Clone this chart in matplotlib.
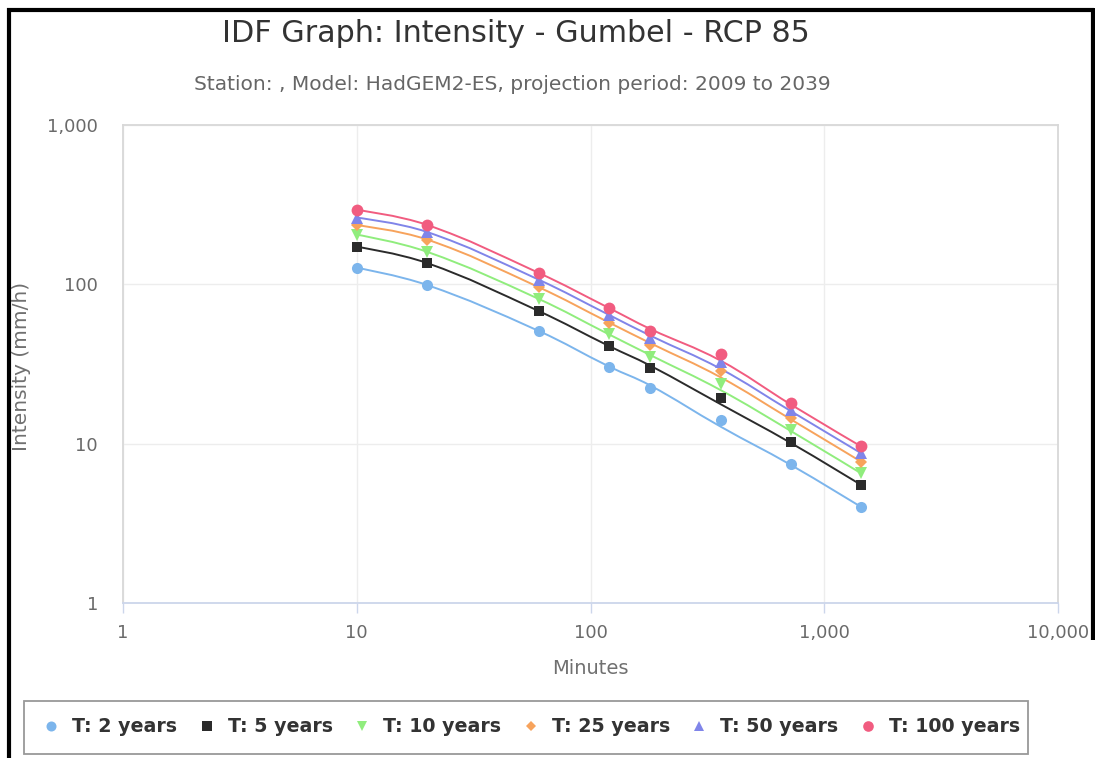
import numpy as np
import matplotlib
matplotlib.use("Agg")
import matplotlib.pyplot as plt
from matplotlib.path import Path
from matplotlib.patches import PathPatch, Rectangle
from matplotlib.lines import Line2D
from matplotlib.ticker import FixedLocator, FuncFormatter, NullLocator

# ---------------- data ----------------
durations = [10, 20, 60, 120, 180, 360, 720, 1440]          # minutes
# observed points (markers)
t2_years = [127, 99, 51, 30.5, 22.5, 14.1, 7.5, 4.0]
t5_years = [172, 136, 68, 41, 30, 19.4, 10.3, 5.5]
t10_years = [205, 160, 81, 48.5, 35, 23.8, 12.2, 6.5]
t25_years = [235, 191, 96, 57.6, 41.6, 28.7, 14.5, 7.7]
t50_years = [262, 213, 107, 64.3, 46.3, 32.4, 16.3, 8.7]
t100_years = [293, 236, 118, 71, 51, 36.5, 18, 9.6]
# fitted curves (lines), read at the same durations
t2_curve = [127, 99, 51, 30.5, 23.2, 12.8, 7.35, 4.0]
t5_curve = [172, 136, 68, 41, 30.9, 17.7, 10.1, 5.5]
t10_curve = [205, 160, 81, 48.5, 36, 21.7, 12.0, 6.5]
t25_curve = [235, 191, 96, 57.6, 42.8, 26.1, 14.2, 7.7]
t50_curve = [262, 213, 107, 64.3, 47.7, 29.5, 16.0, 8.7]
t100_curve = [293, 236, 118, 71, 52.5, 33.2, 17.6, 9.6]
series_names = ["T: 2 years", "T: 5 years", "T: 10 years",
                "T: 25 years", "T: 50 years", "T: 100 years"]
x_ticks = [1, 10, 100, 1000, 10000]
y_ticks = [1, 10, 100, 1000]

series_values = [t2_years, t5_years, t10_years, t25_years, t50_years, t100_years]
curve_values = [t2_curve, t5_curve, t10_curve, t25_curve, t50_curve, t100_curve]
colors = ["#7cb5ec", "#2b2b2b", "#90ed7d", "#f7a35c", "#8085e9", "#f15c80"]
markers = ["o", "s", "v", "D", "^", "o"]
msizes = [8, 7.5, 8, 6, 8, 8.5]

plt.rcParams["font.family"] = ["DejaVu Sans"]


def spline_path(xs, ys):
    """Highcharts-like spline through the points, built in log space."""
    X = np.log10(np.asarray(xs, float))
    Y = np.log10(np.asarray(ys, float))
    n = len(X)
    sm, den = 1.5, 2.5
    lc, rc = [None] * n, [None] * n
    for i in range(n):
        px, py = X[i], Y[i]
        if 0 < i < n - 1:
            lx, ly = X[i - 1], Y[i - 1]
            nx, ny = X[i + 1], Y[i + 1]
            lcx, lcy = (sm * px + lx) / den, (sm * py + ly) / den
            rcx, rcy = (sm * px + nx) / den, (sm * py + ny) / den
            if rcx != lcx:
                corr = ((rcy - lcy) * (rcx - px)) / (rcx - lcx) + py - rcy
                lcy += corr
                rcy += corr
            if lcy > ly and lcy > py:
                lcy = max(ly, py); rcy = 2 * py - lcy
            elif lcy < ly and lcy < py:
                lcy = min(ly, py); rcy = 2 * py - lcy
            if rcy > ny and rcy > py:
                rcy = max(ny, py); lcy = 2 * py - rcy
            elif rcy < ny and rcy < py:
                rcy = min(ny, py); lcy = 2 * py - rcy
            lc[i], rc[i] = (lcx, lcy), (rcx, rcy)
        else:
            lc[i] = rc[i] = (px, py)
    verts = [(X[0], Y[0])]
    codes = [Path.MOVETO]
    for i in range(1, n):
        verts += [rc[i - 1], lc[i], (X[i], Y[i])]
        codes += [Path.CURVE4] * 3
    return Path(10 ** np.array(verts), codes)


W, H = 1095, 758
fig = plt.figure(figsize=(W / 100, H / 100), dpi=100)
fig.patch.set_facecolor("white")

left, right, top, bottom = 123, 1058, 125, 603
ax = fig.add_axes([left / W, 1 - bottom / H, (right - left) / W, (bottom - top) / H])
ax.set_xscale("log")
ax.set_yscale("log")
ax.set_xlim(1, 10000)
ax.set_ylim(1, 1000)

for vals, cvals, col, mk, ms in zip(series_values, curve_values, colors, markers, msizes):
    ax.add_patch(PathPatch(spline_path(durations, cvals), fill=False,
                           edgecolor=col, lw=1.4, zorder=2))
    ax.plot(durations, vals, linestyle="none", marker=mk, markersize=ms,
            color=col, markeredgewidth=0, zorder=3)

ax.xaxis.set_major_locator(FixedLocator(x_ticks))
ax.yaxis.set_major_locator(FixedLocator(y_ticks))
ax.xaxis.set_minor_locator(NullLocator())
ax.yaxis.set_minor_locator(NullLocator())
fmt = FuncFormatter(lambda v, p: f"{int(round(v)):,}")
ax.xaxis.set_major_formatter(fmt)
ax.yaxis.set_major_formatter(fmt)
ax.grid(True, which="major", color="#ededed", lw=1.0, zorder=0)
ax.set_axisbelow(True)
ax.tick_params(axis="x", length=7, width=1, color="#ccd6eb",
               labelsize=13, labelcolor="#6a6a6a", pad=8)
ax.tick_params(axis="y", length=0, labelsize=13, labelcolor="#6a6a6a", pad=18)
for side in ["top", "left", "right"]:
    ax.spines[side].set_color("#d8d8d8")
    ax.spines[side].set_linewidth(1.3)
ax.spines["bottom"].set_color("#ccd6eb")
ax.spines["bottom"].set_linewidth(1.3)

ax.set_xlabel("Minutes", fontsize=14, color="#707070", labelpad=12)
fig.text(22 / W, 1 - 366 / H, "Intensity (mm/h)", rotation=90, fontsize=14.5,
         color="#707070", ha="center", va="center")

fig.text(516 / W, 1 - 33 / H, "IDF Graph: Intensity - Gumbel - RCP 85",
         fontsize=21.7, color="#333333", ha="center", va="center")
fig.text(512 / W, 1 - 85 / H,
         "Station: , Model: HadGEM2-ES, projection period: 2009 to 2039",
         fontsize=14.5, color="#666666", ha="center", va="center")

# legend box
fig.add_artist(Rectangle((24, H - 754), 1004, 53, transform=None, fill=False,
                         edgecolor="#999999", lw=1.3))
handles = [Line2D([], [], linestyle="none", marker=mk, markersize=ms * 0.9,
                  color=col, markeredgewidth=0)
           for col, mk, ms in zip(colors, markers, msizes)]
leg = fig.legend(handles, series_names, loc="center", ncol=6,
                 bbox_to_anchor=(531 / W, 1 - 727 / H),
                 frameon=False, handlelength=1.0, handletextpad=0.6,
                 columnspacing=1.05, borderaxespad=0, borderpad=0,
                 prop={"weight": "bold", "size": 13.7})
for t in leg.get_texts():
    t.set_color("#333333")

# black frame of the screenshot
kw = dict(color="black", lw=3, transform=None, solid_capstyle="butt")
fig.add_artist(Line2D([9, 9], [0, H - 8], **kw))
fig.add_artist(Line2D([7, 1094], [H - 10, H - 10], **kw))
fig.add_artist(Line2D([1092.5, 1092.5], [H - 640, H - 8], **kw))

fig.savefig("out.png", dpi=100, facecolor="white")
